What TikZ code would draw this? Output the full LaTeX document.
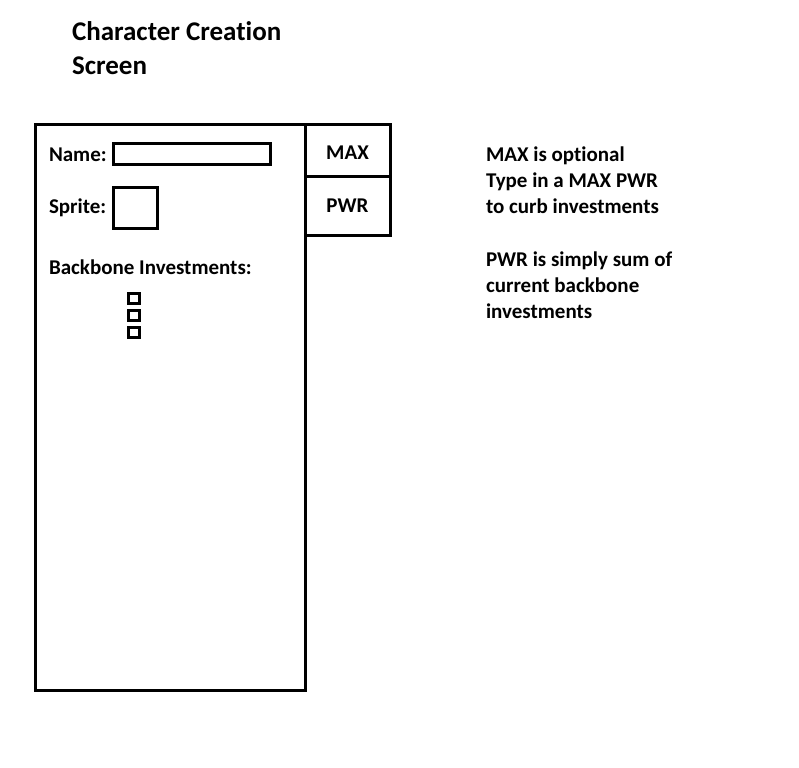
\documentclass[tikz,border=0pt]{standalone}
\usepackage{fontspec}
\setmainfont{Carlito}[RawFeature={-liga;-clig;-calt}]
\usetikzlibrary{positioning}

\begin{document}
\begin{tikzpicture}[x=1pt, y=-1pt,
        every node/.style={inner sep=0pt, outer sep=0pt, font=\bfseries\fontsize{21}{26}\selectfont},
        txt/.style={anchor=base west, align=left},
        box/.style={draw, line width=3pt, anchor=north west},
        chkbox/.style={draw, line width=3pt, minimum width=11pt, minimum height=10pt},
    ]
    \useasboundingbox (0,0) rectangle (799,767);

    \node[txt, font=\bfseries\fontsize{27}{34}\selectfont] (title) at (72,75) {Character Creation\\Screen};

    % screen panel and the two boxes beside it
    \node[box, minimum width=270pt, minimum height=565pt] (panel) at (35,125) {};
    \node[box, minimum width=85pt, minimum height=52pt, text height=17pt, text depth=0pt] (maxbox) at (panel.north east) {MAX};
    \node[box, minimum width=85pt, minimum height=58pt, anchor=north] (pwrbox) at (maxbox.south) {PWR};

    % fields
    \node[txt] (name) at (49,162) {Name:};
    \node[box, minimum width=157pt, minimum height=21pt] (namefield) at (113,144) {};
    \node[txt] (sprite) at (49,214) {Sprite:};
    \node[box, minimum width=44pt, minimum height=40pt] (spritebox) at (113,188) {};
    \node[txt] (backbone) at (49,274) {Backbone Investments:};
    \node[chkbox] (chk1) at (134,298) {};
    \node[chkbox, below=7pt of chk1] (chk2) {};
    \node[chkbox, below=7pt of chk2] (chk3) {};

    % notes
    \node[txt] (maxnote) at (486,214) {MAX is optional\\Type in a MAX PWR\\to curb investments};
    \node[txt] (pwrnote) at (486,318) {PWR is simply sum of\\current backbone\\investments};
\end{tikzpicture}
\end{document}
